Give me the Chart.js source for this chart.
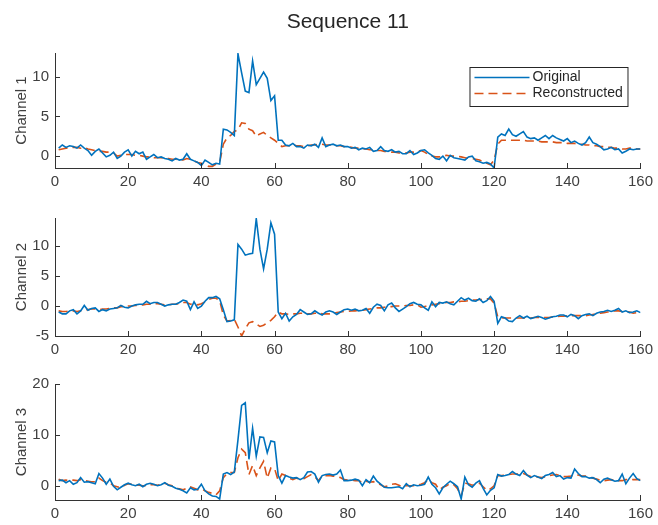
<!DOCTYPE html>
<html>
<head>
<meta charset="utf-8">
<title>Sequence 11</title>
<script src="https://cdn.jsdelivr.net/npm/chart.js@4/dist/chart.umd.min.js"></script>
<style>
  html, body { margin: 0; padding: 0; background: #ffffff; }
  #wrap { position: relative; width: 658px; height: 525px; overflow: hidden; }
  canvas { position: absolute; left: 0; }
</style>
</head>
<body>
<div id="wrap">
  <canvas id="c1" width="658" height="195" style="top:0px"></canvas>
  <canvas id="c2" width="658" height="165" style="top:195px"></canvas>
  <canvas id="c3" width="658" height="165" style="top:360px"></canvas>
</div>
<script>
// Time steps 1..160 shared by all three channels
const steps = Array.from({ length: 160 }, (_, i) => i + 1);
const xTicks = [0, 20, 40, 60, 80, 100, 120, 140, 160];

const ch1Original = [
  1.0, 1.4, 1.1, 1.3, 1.2, 1.0, 1.4, 1.0, 0.7, 0.1,
  0.6, 0.9, 0.4, -0.1, 0.1, 0.5, -0.3, 0.0, 0.5, 0.8,
  0.0, 0.6, 0.3, 0.5, -0.4, -0.1, 0.2, -0.2, -0.1, -0.3,
  -0.4, -0.6, -0.3, -0.5, -0.4, 0.3, -0.4, -0.6, -0.8, -1.2,
  -0.5, -0.8, -1.1, -0.9, -1.0, 3.4, 3.3, 3.0, 2.6, 12.9,
  10.5, 8.2, 8.0, 12.0, 9.0, 9.8, 10.6, 9.8, 7.0, 7.6,
  2.0, 2.0, 1.4, 1.3, 1.6, 1.2, 1.2, 1.0, 1.4, 1.3,
  1.5, 1.1, 2.3, 1.2, 1.4, 1.5, 1.3, 1.4, 1.2, 1.2,
  1.0, 1.1, 0.8, 1.0, 0.9, 1.1, 0.6, 0.7, 1.2, 0.7,
  0.6, 0.8, 0.5, 0.6, 0.3, 0.3, 0.7, 0.2, 0.4, 0.7,
  0.8, 0.4, 0.1, -0.3, -0.4, 0.0, -0.6, 0.1, -0.2, -0.3,
  -0.4, -0.5, -0.1, 0.0, -0.6, -0.7, -0.9, -0.8, -1.0, -1.5,
  2.4, 2.8, 2.6, 3.4, 2.7, 2.5, 2.8, 3.1, 2.4, 2.2,
  2.3, 2.0, 2.3, 2.6, 2.2, 2.6, 2.3, 2.1, 1.9, 2.2,
  1.7, 1.9, 1.6, 1.4, 1.7, 2.4, 1.7, 1.5, 1.2, 0.8,
  0.9, 1.1, 0.8, 0.9, 0.4, 0.6, 0.9, 0.8, 0.9, 0.9
];
const ch1Reconstructed = [
  0.8, 0.9, 1.0, 1.0, 1.1, 1.1, 1.0, 1.1, 0.9, 0.8,
  0.7, 0.6, 0.6, 0.5, 0.5, 0.4, 0.0, 0.1, 0.2, 0.2,
  0.2, 0.1, 0.1, 0.0, -0.1, -0.1, -0.2, -0.2, -0.2, -0.3,
  -0.3, -0.4, -0.4, -0.5, -0.5, -0.3, -0.4, -0.6, -0.8, -0.9,
  -1.1, -1.3, -1.3, -1.0, -0.8, 1.5, 2.3, 2.6, 3.1, 3.3,
  4.2, 4.1, 3.4, 3.2, 2.5, 2.8, 3.0, 2.6, 2.3, 2.0,
  1.6, 1.2, 1.3, 1.3, 1.4, 1.3, 1.3, 1.2, 1.3, 1.4,
  1.4, 1.5, 1.5, 1.4, 1.4, 1.4, 1.3, 1.3, 1.2, 1.2,
  1.1, 1.0, 1.0, 0.9, 0.9, 0.8, 0.8, 0.7, 0.7, 0.6,
  0.6, 0.5, 0.5, 0.4, 0.4, 0.4, 0.5, 0.5, 0.6, 0.7,
  0.5, 0.2, 0.0, -0.1, -0.1, 0.0, 0.1, 0.0, 0.0, 0.0,
  -0.1, -0.2, -0.3, -0.3, -0.4, -0.5, -0.7, -0.9, -1.1, -0.5,
  1.5, 2.0, 2.0, 2.0, 2.0, 2.0, 2.0, 2.0, 1.9, 1.9,
  1.9, 1.9, 1.8, 1.8, 1.8, 1.8, 1.7, 1.7, 1.7, 1.6,
  1.6, 1.6, 1.5, 1.5, 1.4, 1.4, 1.3, 1.3, 1.2, 1.2,
  1.1, 1.1, 1.0, 1.0, 0.9, 0.9, 1.0, 1.0, 0.9, 0.9
];

const ch2Original = [
  -1.0, -1.3, -1.3, -0.8, -0.6, -1.3, -0.8, 0.1, -0.7, -0.4,
  -0.3, -0.9, -0.6, -0.8, -0.5, -0.4, -0.3, 0.1, -0.2, -0.3,
  0.0, 0.2, 0.3, 0.3, 0.8, 0.4, 0.6, 0.6, 0.3, 0.0,
  0.2, 0.3, 0.3, 0.6, 1.0, 0.8, -0.6, 0.7, -0.4, 0.0,
  0.8, 1.4, 1.4, 1.6, 1.2, -0.6, -2.6, -2.5, -2.3, 10.3,
  9.5, 8.5, 8.7, 8.8, 14.6, 9.5, 6.2, 9.5, 13.9, 12.0,
  -1.0, -2.1, -1.2, -2.5, -1.8, -1.4, -0.6, -1.0, -1.4, -1.3,
  -0.8, -1.2, -1.5, -1.0, -0.8, -1.0, -1.4, -1.0, -0.6, -0.5,
  -0.7, -0.5, -0.8, -0.7, -0.4, -1.2, -0.2, 0.3, 0.1, -0.8,
  0.2, 0.5, -0.3, -0.9, -0.5, -0.1, 0.4, 0.6, 0.3, 0.2,
  -0.3, -0.7, 0.7, -0.1, 0.6, 0.5, 0.7, 0.4, 0.2, 0.8,
  1.4, 1.0, 1.3, 0.9, 0.8, 1.2, 0.6, 0.9, 1.6, 0.8,
  -2.9, -1.8, -2.0, -2.5, -2.6, -2.0, -1.6, -2.0, -1.7, -2.1,
  -1.9, -1.7, -1.9, -2.2, -2.0, -1.8, -1.7, -1.5, -1.5, -1.8,
  -1.4, -1.6, -2.1, -1.6, -1.4, -1.3, -1.6, -1.2, -1.0, -0.9,
  -0.7, -0.9, -0.7, -0.4, -1.0, -0.8, -1.1, -1.0, -0.8, -1.1
];
const ch2Reconstructed = [
  -0.8, -0.9, -0.9, -0.8, -0.8, -0.9, -0.8, -0.6, -0.6, -0.5,
  -0.5, -0.6, -0.5, -0.5, -0.4, -0.3, -0.3, -0.1, -0.1, 0.0,
  0.0, 0.1, 0.1, 0.2, 0.3, 0.3, 0.4, 0.4, 0.3, 0.2,
  0.2, 0.3, 0.3, 0.4, 0.6, 0.6, 0.3, 0.4, 0.2, 0.4,
  0.7, 1.1, 1.3, 1.3, 0.9, -1.5, -2.5, -2.4, -2.2, -3.5,
  -5.0, -3.8, -2.8, -2.6, -3.0, -3.4, -3.2, -2.8, -2.4, -1.8,
  -1.0, -1.3, -1.3, -1.4, -1.3, -1.3, -1.2, -1.2, -1.3, -1.3,
  -1.2, -1.2, -1.3, -1.3, -1.3, -1.2, -1.1, -1.0, -0.9, -0.9,
  -0.8, -0.8, -0.7, -0.7, -0.6, -0.5, -0.4, -0.3, -0.3, -0.2,
  -0.1, -0.1, 0.0, 0.0, 0.0, 0.1, 0.1, 0.2, 0.2, -0.2,
  -0.1, 0.1, 0.2, 0.3, 0.4, 0.5, 0.6, 0.6, 0.7, 0.7,
  0.8, 0.8, 0.9, 1.0, 1.0, 1.1, 1.1, 1.2, 1.2, 0.5,
  -1.8, -2.0, -2.0, -2.0, -2.0, -2.0, -2.0, -2.0, -2.0, -2.0,
  -1.9, -1.9, -1.9, -1.9, -1.9, -1.8, -1.8, -1.7, -1.7, -1.6,
  -1.6, -1.6, -1.6, -1.6, -1.6, -1.5, -1.4, -1.3, -1.2, -1.1,
  -1.0, -0.9, -0.8, -0.8, -0.9, -0.9, -1.0, -1.2, -1.1, -1.0
];

const ch3Original = [
  1.0, 1.1, 0.6, 1.0, 0.3, 0.6, 1.6, 0.7, 0.8, 0.6,
  0.4, 2.4, 1.5, 0.3, 1.3, -0.1, -0.8, -0.3, 0.2, 0.5,
  0.2, 0.0, 0.3, -0.2, 0.3, 0.5, 0.3, 0.0, 0.2, 0.6,
  0.1, -0.1, -0.5, -0.7, -1.0, -1.4, -0.4, -0.8, -0.7, 0.3,
  -1.0, -1.6, -2.0, -2.1, -2.6, 2.3, 2.6, 2.2, 2.7, 9.0,
  15.8, 16.3, 5.2, 11.3, 5.8, 9.6, 9.5, 6.5, 8.8, 8.6,
  2.0, 0.5, 2.0, 1.7, 1.5, 1.6, 1.2, 1.6, 2.7, 2.8,
  2.3, 0.7, 2.0, 2.2, 2.3, 2.1, 2.3, 3.1, 1.0, 1.0,
  1.1, 1.3, 1.1, 0.0, 1.2, 0.6, 1.9, 0.9, 0.3, -0.3,
  -0.4, -0.4, -0.3, -0.2, -0.6, 0.4, -0.2, 0.2, 0.0, 0.1,
  0.3, 1.7, 0.3, -0.4, -1.6, -0.4, 0.3, 0.9, 0.4, -0.2,
  -2.6, 1.7, 0.2, -0.3, 0.5, 1.0, -0.5, -1.8, -0.9, -0.4,
  2.2, 1.9, 2.0, 2.2, 2.8, 2.3, 2.0, 3.0, 2.1, 1.6,
  2.0, 1.7, 1.4, 2.0, 2.2, 2.6, 1.8, 2.0, 1.3, 1.6,
  1.5, 3.3, 2.4, 1.8, 1.8, 1.5, 1.6, 1.2, 0.6, 1.3,
  1.5, 1.2, 0.9, 1.0, 2.3, 0.4, 1.5, 2.4, 1.4, 1.0
];
const ch3Reconstructed = [
  1.3, 1.0, 1.1, 1.0, 1.1, 1.0, 1.2, 1.0, 0.9, 0.8,
  0.8, 1.5, 1.0, 0.7, 0.6, 0.0, -0.2, -0.4, 0.1, 0.4,
  0.3, 0.2, 0.1, 0.0, 0.0, 0.2, 0.2, 0.1, 0.3, 0.5,
  0.2, 0.0, -0.5, -0.6, -0.8, -0.5, -0.2, -0.5, -0.8, -0.6,
  -1.0, -1.3, -1.5, -1.8, -1.0, 1.6, 2.4, 2.6, 2.6, 5.5,
  7.2, 6.5, 2.2, 4.0, 2.0, 3.5, 4.8, 1.5, 3.5, 3.4,
  1.0, 2.3, 2.0, 1.5, 1.2, 1.5, 1.3, 1.4, 1.8, 2.2,
  1.8, 1.0, 2.0, 2.0, 2.0, 1.9, 1.8, 1.6, 1.2, 1.1,
  1.1, 1.0, 1.0, 0.6, 0.9, 0.7, 0.8, 0.5, 0.2, -0.2,
  0.0, 0.3, 0.4, 0.1, -0.2, 0.0, 0.0, 0.0, 0.1, 0.3,
  0.6, 1.2, 0.6, 0.3, -0.8, -0.3, 0.0, 0.5, 0.2, -0.6,
  -2.0, 0.5, 0.4, 0.1, 0.3, 0.5, -0.2, -0.9, -0.6, 0.0,
  2.0, 2.0, 2.1, 2.2, 2.3, 2.3, 2.3, 2.4, 2.1, 1.8,
  1.9, 1.7, 1.6, 1.8, 2.0, 2.1, 2.2, 2.0, 1.8, 1.8,
  1.9, 2.2, 2.1, 1.9, 1.9, 1.7, 1.5, 1.3, 1.1, 1.0,
  1.1, 1.2, 1.1, 1.0, 1.0, 1.2, 1.3, 1.2, 1.2, 1.2
];

const ch1Ticks = [0, 5, 10];
const ch2Ticks = [-5, 0, 5, 10];
const ch3Ticks = [0, 10, 20];

const FONT = '"Liberation Sans", Arial, Helvetica, sans-serif';
const AXIS_COLOR = '#333333';
const TEXT_COLOR = '#404040';
const BLUE = '#0072BD';
const ORANGE = '#D95319';

// Short tick marks pointing into the plot area
const inwardTicks = {
  id: 'inwardTicks',
  afterDraw(chart) {
    const { ctx, chartArea: a, scales: { x, y } } = chart;
    ctx.save();
    ctx.strokeStyle = AXIS_COLOR;
    ctx.lineWidth = 1;
    ctx.setLineDash([]);
    ctx.beginPath();
    x.ticks.forEach(t => {
      const px = Math.round(x.getPixelForValue(t.value)) + 0.5;
      ctx.moveTo(px, a.bottom);
      ctx.lineTo(px, a.bottom - 5);
    });
    y.ticks.forEach(t => {
      const py = Math.round(y.getPixelForValue(t.value)) + 0.5;
      ctx.moveTo(a.left, py);
      ctx.lineTo(a.left + 5, py);
    });
    ctx.stroke();
    ctx.restore();
  }
};

// Figure title above the first panel
const figureTitle = {
  id: 'figureTitle',
  afterDraw(chart) {
    const { ctx, chartArea: a } = chart;
    ctx.save();
    ctx.fillStyle = '#262626';
    ctx.font = '21px ' + FONT;
    ctx.textAlign = 'center';
    ctx.textBaseline = 'middle';
    ctx.fillText('Sequence 11', (a.left + a.right) / 2, 22);
    ctx.restore();
  }
};

// Boxed legend in the upper right of the first panel
const boxedLegend = {
  id: 'boxedLegend',
  afterDraw(chart) {
    const { ctx, chartArea: a } = chart;
    const bw = 158, bh = 39;
    const bx = a.right - 171, by = a.top + 14;
    ctx.save();
    ctx.fillStyle = '#ffffff';
    ctx.fillRect(bx, by, bw, bh);
    ctx.strokeStyle = '#262626';
    ctx.lineWidth = 1;
    ctx.strokeRect(bx + 0.5, by + 0.5, bw, bh);
    chart.data.datasets.forEach((ds, i) => {
      const ly = by + 10.5 + i * 16;
      ctx.strokeStyle = ds.borderColor;
      ctx.lineWidth = ds.borderWidth;
      ctx.setLineDash(ds.borderDash || []);
      ctx.beginPath();
      ctx.moveTo(bx + 5, ly);
      ctx.lineTo(bx + 60, ly);
      ctx.stroke();
      ctx.setLineDash([]);
      ctx.fillStyle = '#262626';
      ctx.font = '14px ' + FONT;
      ctx.textAlign = 'left';
      ctx.textBaseline = 'middle';
      ctx.fillText(ds.label, bx + 63, ly);
    });
    ctx.restore();
  }
};

function toPoints(values) {
  return values.map((v, i) => ({ x: steps[i], y: v }));
}

function makePanel(id, original, reconstructed, yTicks, yMin, yMax, yLabel, padTop, xAxisHeight, extraPlugins) {
  return new Chart(document.getElementById(id), {
    type: 'line',
    data: {
      datasets: [
        {
          label: 'Original',
          data: toPoints(original),
          borderColor: BLUE,
          borderWidth: 1.6,
          pointRadius: 0,
          tension: 0,
          fill: false
        },
        {
          label: 'Reconstructed',
          data: toPoints(reconstructed),
          borderColor: ORANGE,
          borderWidth: 1.6,
          borderDash: [9, 5],
          pointRadius: 0,
          tension: 0,
          fill: false
        }
      ]
    },
    options: {
      responsive: false,
      animation: false,
      events: [],
      layout: { padding: { top: padTop, right: 15, bottom: 0, left: 0 } },
      plugins: { legend: { display: false }, tooltip: { enabled: false } },
      scales: {
        x: {
          type: 'linear',
          min: 0,
          max: 160,
          afterBuildTicks: s => { s.ticks = xTicks.map(v => ({ value: v })); },
          afterFit: s => { s.height = xAxisHeight; },
          grid: { drawOnChartArea: false, drawTicks: false },
          border: { color: AXIS_COLOR, width: 1 },
          ticks: {
            color: TEXT_COLOR,
            font: { family: FONT, size: 15 },
            padding: 5,
            maxRotation: 0,
            autoSkip: false
          }
        },
        y: {
          type: 'linear',
          min: yMin,
          max: yMax,
          afterBuildTicks: s => { s.ticks = yTicks.map(v => ({ value: v })); },
          afterFit: s => { s.width = 55; },
          grid: { drawOnChartArea: false, drawTicks: false },
          border: { color: AXIS_COLOR, width: 1 },
          ticks: {
            color: TEXT_COLOR,
            font: { family: FONT, size: 15 },
            padding: 6
          },
          title: {
            display: true,
            text: yLabel,
            color: TEXT_COLOR,
            font: { family: FONT, size: 15 },
            padding: { top: 13, bottom: 0 }
          }
        }
      }
    },
    plugins: [inwardTicks].concat(extraPlugins)
  });
}

makePanel('c1', ch1Original, ch1Reconstructed, ch1Ticks, -1.5, 13, 'Channel 1', 53, 27, [figureTitle, boxedLegend]);
makePanel('c2', ch2Original, ch2Reconstructed, ch2Ticks, -5, 14.7, 'Channel 2', 23, 24, []);
makePanel('c3', ch3Original, ch3Reconstructed, ch3Ticks, -2.8, 20, 'Channel 3', 24, 25, []);
</script>
</body>
</html>
